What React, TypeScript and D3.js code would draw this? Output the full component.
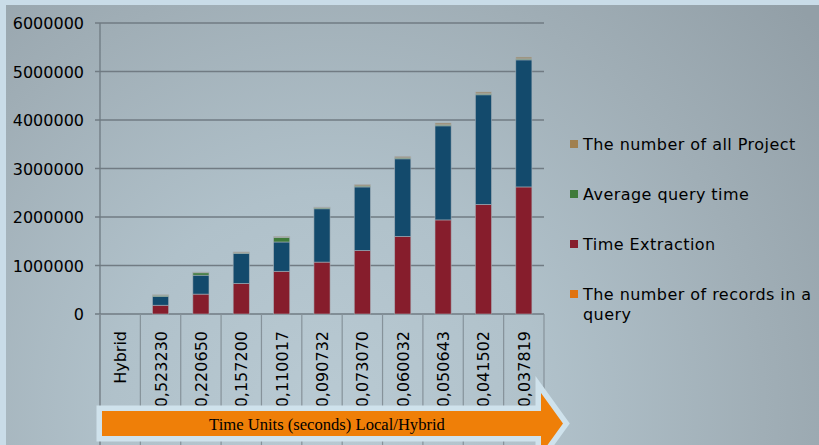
import React from "react";
import * as d3 from "d3";

const categories = ["Hybrid", "0,523230", "0,220650", "0,157200", "0,110017", "0,090732", "0,073070", "0,060032", "0,050643", "0,041502", "0,037819"];
const recordsInQuery = [0, 0, 0, 0, 0, 0, 0, 0, 0, 0, 0];
const timeExtraction = [0, 180000, 410000, 630000, 880000, 1070000, 1310000, 1600000, 1940000, 2260000, 2620000];
const unlabeledSeries = [0, 180000, 390000, 620000, 605000, 1100000, 1310000, 1600000, 1940000, 2260000, 2620000];
const averageQueryTime = [0, 25000, 50000, 10000, 95000, 20000, 20000, 20000, 20000, 20000, 20000];
const numberOfProjects = [0, 12000, 15000, 20000, 20000, 15000, 30000, 30000, 40000, 40000, 40000];
const yTicks = [0, 1000000, 2000000, 3000000, 4000000, 5000000, 6000000];
const legendLabels = ["The number of all Project", "Average query time", "Time Extraction", "The number of records in a"];
const legendLabelExtra = "query";
const axisTitle = "Time Units (seconds) Local/Hybrid";

const keys = ["records", "extraction", "unlabeled", "avg", "projects"];
const colors: Record<string, string> = {
  records: "#e0730f",
  extraction: "#861d2c",
  unlabeled: "#134a6c",
  avg: "#3f7a3a",
  projects: "#9a8c70",
};
const legendColors = ["#a08050", "#3f7a3a", "#861d2c", "#e0730f"];

export default function App() {
  const W = 819, H = 445;
  const left = 100, right = 544, top = 23, zeroY = 314;
  const x = d3.scaleBand<string>().domain(categories).range([left, right]).paddingInner(0.6).paddingOuter(0.3);
  const y = d3.scaleLinear().domain([0, 6000000]).range([zeroY, top]);
  const rows = categories.map((c, i) => ({
    cat: c,
    records: recordsInQuery[i],
    extraction: timeExtraction[i],
    unlabeled: unlabeledSeries[i],
    avg: averageQueryTime[i],
    projects: numberOfProjects[i],
  }));
  const stacked = d3.stack<any>().keys(keys)(rows);
  const step = x.step();
  const bounds = d3.range(categories.length + 1).map((i) => left + i * step);

  const sans = "'DejaVu Sans', Verdana, sans-serif";
  const arrowPts = [
    [102, 411], [541, 411], [541, 393], [563, 423.5], [541, 454], [541, 436], [102, 436],
  ].map((p) => p.join(",")).join(" ");

  return (
    <svg width={W} height={H} style={{ position: "absolute", left: 0, top: 0 }}>
      <defs>
        <radialGradient id="bg" gradientUnits="userSpaceOnUse" cx={330} cy={410} r={620}>
          <stop offset="0" stopColor="#b9cad3" />
          <stop offset="0.35" stopColor="#b0c1ca" />
          <stop offset="0.7" stopColor="#a0aeb6" />
          <stop offset="1" stopColor="#929fa7" />
        </radialGradient>
      </defs>
      <rect x={0} y={0} width={W} height={H} fill="#c9dce8" />
      <rect x={6} y={5} width={W - 6} height={H - 5} fill="url(#bg)" />

      {yTicks.map((t) => (
        <line key={"g" + t} x1={95} x2={right} y1={y(t)} y2={y(t)} stroke="#717b83" strokeWidth={1.3} />
      ))}
      {yTicks.map((t) => (
        <text key={"t" + t} x={84} y={y(t) + 6} textAnchor="end" fontFamily={sans} fontSize={16} fill="#000">
          {t}
        </text>
      ))}
      <line x1={left} x2={left} y1={top} y2={H} stroke="#6f7a82" strokeWidth={1.3} />
      {bounds.map((b, i) => (
        <line key={"s" + i} x1={b} x2={b} y1={zeroY} y2={H} stroke="#86929a" strokeWidth={1.2} />
      ))}

      {stacked.map((s) => (
        <g key={s.key} fill={colors[s.key]}>
          {s.map((d, i) => {
            const h = y(d[0]) - y(d[1]);
            if (h <= 0) return null;
            return (
              <rect key={i} x={x(categories[i])!} width={x.bandwidth()} y={y(d[1])} height={h}
                stroke="rgba(170,180,186,0.7)" strokeWidth={0.8} />
            );
          })}
        </g>
      ))}

      {categories.map((c) => {
        const cx = x(c)! + x.bandwidth() / 2 + 6;
        return (
          <text key={c} transform={`translate(${cx},331) rotate(-90)`} textAnchor="end" fontFamily={sans} fontSize={16} fill="#000">
            {c}
          </text>
        );
      })}

      <polygon points={arrowPts} fill="#ef7f08" stroke="#cfe2ec" strokeWidth={11} strokeLinejoin="miter" style={{ paintOrder: "stroke" }} />
      <text x={327} y={430} textAnchor="middle" fontFamily="'Liberation Serif', 'Times New Roman', serif" fontSize={16.6} fill="#000">
        {axisTitle}
      </text>

      {legendLabels.map((l, i) => (
        <g key={l}>
          <rect x={570} y={140 + i * 50} width={8} height={8} fill={legendColors[i]} />
          <text x={583} y={150 + i * 50} fontFamily={sans} fontSize={16} letterSpacing={0.45} fill="#000">
            {l}
          </text>
        </g>
      ))}
      <text x={583} y={320} fontFamily={sans} fontSize={16} letterSpacing={0.45} fill="#000">
        {legendLabelExtra}
      </text>
    </svg>
  );
}
